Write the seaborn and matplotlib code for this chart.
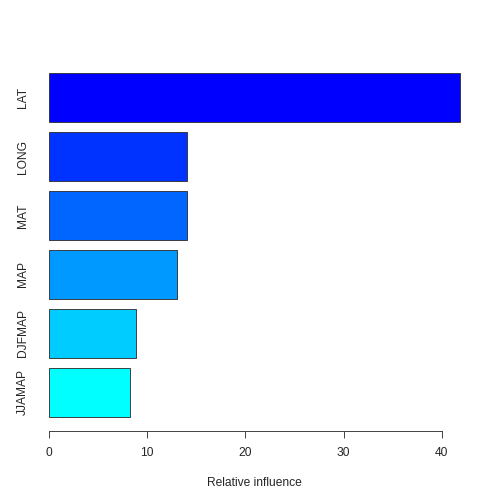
import matplotlib
matplotlib.use("Agg")
import matplotlib.pyplot as plt
import pandas as pd
import seaborn as sns

# relative influence of each predictor (top to bottom)
variables = ["LAT", "LONG", "MAT", "MAP", "DJFMAP", "JJAMAP"]
influence = [41.8, 14.1, 14.05, 13.08, 8.85, 8.27]
x_ticks = [0, 10, 20, 30, 40]

# rainbow(6, start=3/6, end=4/6), reversed so biggest bar is blue
bar_colors = ["#0000FF", "#0033FF", "#0066FF", "#0099FF", "#00CCFF", "#00FFFF"]

df = pd.DataFrame({"var": variables, "rel_inf": influence})

sns.set_style("white")
plt.rcParams["font.family"] = ["Liberation Sans", "DejaVu Sans"]

fig = plt.figure(figsize=(7, 7), dpi=72)
ax = fig.add_axes([32.3 / 504, 73.5 / 504, (476 - 32.3) / 504, (430.5 - 59.3) / 504])

sns.barplot(data=df, x="rel_inf", y="var", hue="var", palette=bar_colors,
            legend=False, orient="h", width=1 / 1.2, saturation=1,
            edgecolor="#333333", linewidth=0.9, ax=ax)

top = max(influence)
ax.set_xlim(-0.04 * top, 1.04 * top)
ax.set_ylim(len(variables) - 0.35, -0.65)

for s in ["top", "right", "left"]:
    ax.spines[s].set_visible(False)
ax.spines["bottom"].set_bounds(x_ticks[0], x_ticks[-1])
ax.spines["bottom"].set_color("#333333")
ax.spines["bottom"].set_linewidth(0.9)

ax.set_xticks(x_ticks)
ax.tick_params(axis="x", bottom=True, direction="out", length=7, width=0.9,
               color="#333333", labelsize=12, pad=9)
ax.tick_params(axis="y", left=False, length=0, labelsize=12, pad=3)
for lab in ax.get_yticklabels():
    lab.set_rotation(90)
    lab.set_va("center")

ax.set_xlabel("Relative influence", fontsize=12, labelpad=19)
ax.set_ylabel("")

fig.savefig("out.png", dpi=72)
